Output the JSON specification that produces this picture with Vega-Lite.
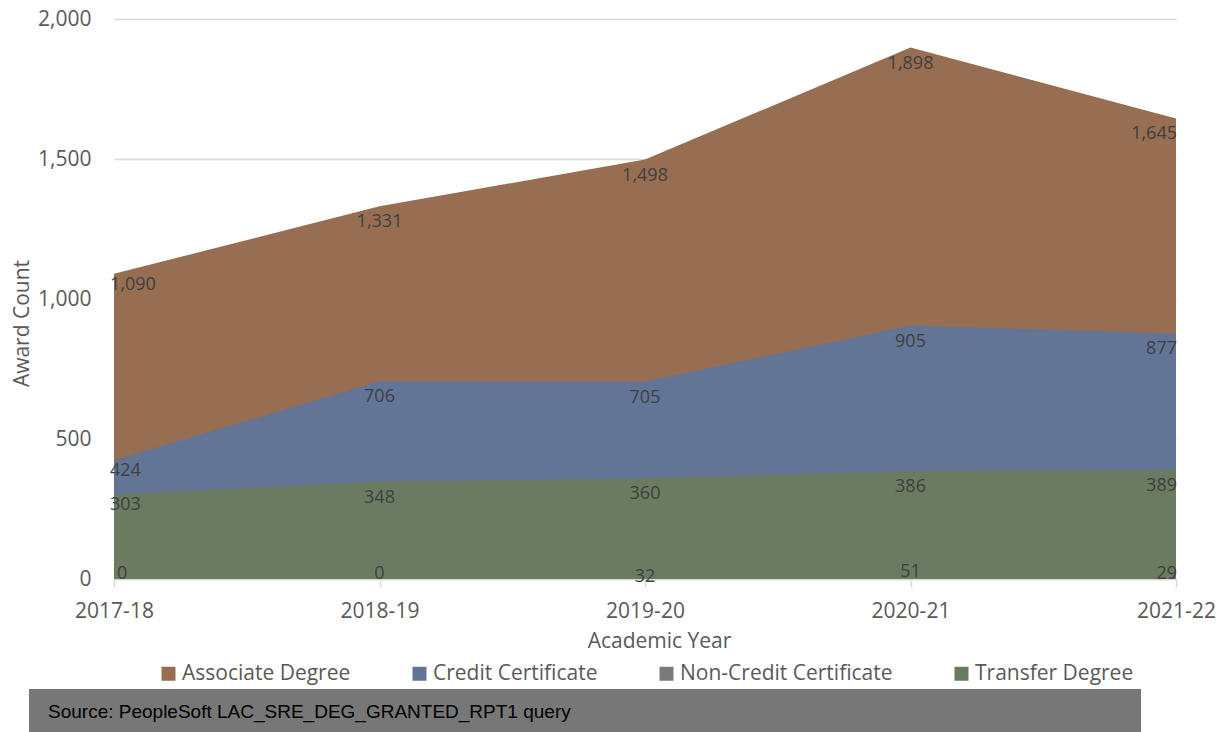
{
  "$schema": "https://vega.github.io/schema/vega-lite/v6.json",
  "padding": {"left": 11, "top": 8, "right": 0, "bottom": 0},
  "background": "white",
  "config": {
    "view": {"stroke": null},
    "font": "Open Sans"
  },
  "spacing": 38,
  "vconcat": [
    {
      "spacing": 0,
      "bounds": "flush",
      "hconcat": [
        {
          "width": 85,
          "height": 560,
          "data": {"values": [{"t": " "}]},
          "mark": {"type": "text"},
          "encoding": {"text": {"field": "t"}}
        },
        {
          "width": 1062,
          "height": 560,
          "data": {
            "values": [
              {"year": "2017-18", "type": "Associate Degree", "count": 1090},
              {"year": "2018-19", "type": "Associate Degree", "count": 1331},
              {"year": "2019-20", "type": "Associate Degree", "count": 1498},
              {"year": "2020-21", "type": "Associate Degree", "count": 1898},
              {"year": "2021-22", "type": "Associate Degree", "count": 1645},
              {"year": "2017-18", "type": "Credit Certificate", "count": 424},
              {"year": "2018-19", "type": "Credit Certificate", "count": 706},
              {"year": "2019-20", "type": "Credit Certificate", "count": 705},
              {"year": "2020-21", "type": "Credit Certificate", "count": 905},
              {"year": "2021-22", "type": "Credit Certificate", "count": 877},
              {"year": "2017-18", "type": "Non-Credit Certificate", "count": 0},
              {"year": "2018-19", "type": "Non-Credit Certificate", "count": 0},
              {"year": "2019-20", "type": "Non-Credit Certificate", "count": 32},
              {"year": "2020-21", "type": "Non-Credit Certificate", "count": 51},
              {"year": "2021-22", "type": "Non-Credit Certificate", "count": 29},
              {"year": "2017-18", "type": "Transfer Degree", "count": 303},
              {"year": "2018-19", "type": "Transfer Degree", "count": 348},
              {"year": "2019-20", "type": "Transfer Degree", "count": 360},
              {"year": "2020-21", "type": "Transfer Degree", "count": 386},
              {"year": "2021-22", "type": "Transfer Degree", "count": 389}
            ]
          },
          "encoding": {
            "x": {
              "field": "year",
              "type": "ordinal",
              "scale": {"type": "point", "padding": 0},
              "axis": {
                "title": "Academic Year",
                "titleFont": "Open Sans",
                "titleFontSize": 21,
                "titleFontWeight": "normal",
                "titleColor": "#595959",
                "titleX": 545,
                "titlePadding": 9,
                "labelFont": "Open Sans",
                "labelFontSize": 21,
                "labelColor": "#595959",
                "labelAngle": 0,
                "labelPadding": 13,
                "domainColor": "#d9d9d9",
                "domainWidth": 1.5,
                "tickColor": "#d9d9d9",
                "tickWidth": 1.5,
                "tickSize": 8,
                "grid": false
              }
            },
            "y": {
              "field": "count",
              "type": "quantitative",
              "stack": null,
              "scale": {"domain": [0, 2000], "nice": false},
              "axis": {
                "title": "Award Count",
                "titleFont": "Open Sans",
                "titleFontSize": 21,
                "titleFontWeight": "normal",
                "titleColor": "#595959",
                "titleX": -92,
                "titleY": 304,
                "titleAngle": -90,
                "titleAlign": "center",
                "titleBaseline": "middle",
                "values": [0, 500, 1000, 1500, 2000],
                "format": ",d",
                "labelFont": "Open Sans",
                "labelFontSize": 21,
                "labelColor": "#595959",
                "labelPadding": 23,
                "ticks": false,
                "tickSize": 0,
                "domain": false,
                "grid": true,
                "gridColor": "#d9d9d9",
                "gridWidth": 1.5
              }
            }
          },
          "layer": [
            {
              "mark": {"type": "area", "opacity": 1},
              "encoding": {
                "color": {
                  "field": "type",
                  "type": "nominal",
                  "scale": {
                    "domain": ["Associate Degree", "Credit Certificate", "Non-Credit Certificate", "Transfer Degree"],
                    "range": ["#976e52", "#637596", "#7a7a7a", "#6b7b61"]
                  },
                  "legend": {
                    "title": null,
                    "orient": "none",
                    "direction": "horizontal",
                    "legendX": 129,
                    "legendY": 644,
                    "symbolType": "square",
                    "symbolSize": 196,
                    "symbolStrokeWidth": 0,
                    "symbolOpacity": 1,
                    "labelFont": "Open Sans",
                    "labelFontSize": 21,
                    "labelColor": "#595959",
                    "labelOffset": 3,
                    "columnPadding": 58,
                    "labelLimit": 400
                  }
                }
              }
            },
            {
              "transform": [
                {"filter": "datum.year === '2017-18' && datum.type !== 'Non-Credit Certificate'"}
              ],
              "mark": {"type": "text", "align": "left", "baseline": "middle", "dx": -4, "dy": 11, "font": "Open Sans", "fontSize": 18, "color": "#404040"},
              "encoding": {"text": {"field": "count", "type": "quantitative", "format": ","}}
            },
            {
              "transform": [
                {"filter": "datum.year !== '2017-18' && datum.year !== '2021-22' && datum.type !== 'Non-Credit Certificate'"}
              ],
              "mark": {"type": "text", "align": "center", "baseline": "middle", "dy": 16, "font": "Open Sans", "fontSize": 18, "color": "#404040"},
              "encoding": {"text": {"field": "count", "type": "quantitative", "format": ","}}
            },
            {
              "transform": [
                {"filter": "datum.year === '2021-22' && datum.type !== 'Non-Credit Certificate'"}
              ],
              "mark": {"type": "text", "align": "right", "baseline": "middle", "dx": 1, "dy": 16, "font": "Open Sans", "fontSize": 18, "color": "#404040"},
              "encoding": {"text": {"field": "count", "type": "quantitative", "format": ","}}
            },
            {
              "transform": [
                {"filter": "datum.year === '2017-18' && datum.type === 'Non-Credit Certificate'"}
              ],
              "mark": {"type": "text", "align": "left", "baseline": "middle", "dx": 3, "dy": -5, "font": "Open Sans", "fontSize": 18, "color": "#404040"},
              "encoding": {"text": {"field": "count", "type": "quantitative", "format": ","}}
            },
            {
              "transform": [
                {"filter": "datum.year !== '2017-18' && datum.year !== '2021-22' && datum.type === 'Non-Credit Certificate' && datum.count === 0"}
              ],
              "mark": {"type": "text", "align": "center", "baseline": "middle", "dy": -5, "font": "Open Sans", "fontSize": 18, "color": "#404040"},
              "encoding": {"text": {"field": "count", "type": "quantitative", "format": ","}}
            },
            {
              "transform": [
                {"filter": "datum.year !== '2017-18' && datum.year !== '2021-22' && datum.type === 'Non-Credit Certificate' && datum.count > 0"}
              ],
              "mark": {"type": "text", "align": "center", "baseline": "middle", "dy": 7, "font": "Open Sans", "fontSize": 18, "color": "#404040"},
              "encoding": {"text": {"field": "count", "type": "quantitative", "format": ","}}
            },
            {
              "transform": [
                {"filter": "datum.year === '2021-22' && datum.type === 'Non-Credit Certificate'"}
              ],
              "mark": {"type": "text", "align": "right", "baseline": "middle", "dx": 1, "dy": 3, "font": "Open Sans", "fontSize": 18, "color": "#404040"},
              "encoding": {"text": {"field": "count", "type": "quantitative", "format": ","}}
            }
          ]
        }
      ]
    },
    {
      "width": 1112,
      "height": 44,
      "view": {"fill": "#777777", "stroke": null},
      "data": {"values": [{"source": "Source: PeopleSoft LAC_SRE_DEG_GRANTED_RPT1 query"}]},
      "mark": {"type": "text", "align": "left", "baseline": "middle", "dx": -537, "dy": 1, "font": "Liberation Sans", "fontSize": 19, "color": "#000000"},
      "encoding": {"text": {"field": "source"}}
    }
  ]
}
